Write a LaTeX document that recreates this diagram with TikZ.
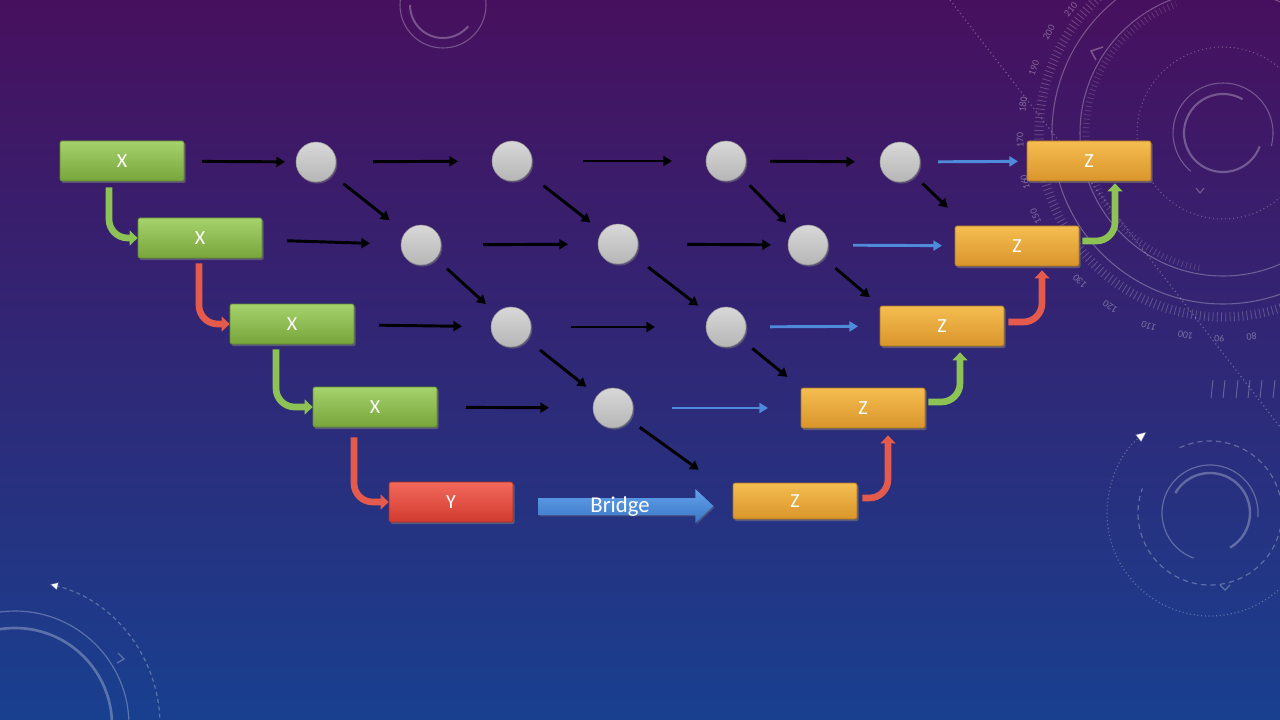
\documentclass[tikz,border=0pt]{standalone}
\usepackage{fontspec}
\setmainfont{Carlito}
\usetikzlibrary{arrows.meta,shadows,calc}
\definecolor{bgtop}{HTML}{47105E}
\definecolor{bgmid}{HTML}{2E2278}
\definecolor{bgbot}{HTML}{18408F}
\definecolor{gtop}{HTML}{A6D26B}
\definecolor{gbot}{HTML}{77A53B}
\definecolor{gdraw}{HTML}{5F8C2E}
\definecolor{otop}{HTML}{F5BD50}
\definecolor{obot}{HTML}{D9952B}
\definecolor{odraw}{HTML}{A8731E}
\definecolor{rtop}{HTML}{F2695C}
\definecolor{rbot}{HTML}{D23B2F}
\definecolor{rdraw}{HTML}{A82C22}
\definecolor{dtop}{HTML}{D8D8D8}
\definecolor{dbot}{HTML}{B6B6B6}
\definecolor{arrblue}{HTML}{4E8BDA}
\definecolor{bentgreen}{HTML}{8DC355}
\definecolor{bentred}{HTML}{E45A4C}
\definecolor{brtop}{HTML}{62A2E8}
\definecolor{brbot}{HTML}{3A76C8}
\newcommand\lnk[5]{\draw[#1, shorten <=#4*0.75pt, shorten >=#5*0.75pt] (#2.center) -- (#3.center);}
\begin{document}
\begin{tikzpicture}[x=0.75pt,y=-0.75pt,
  box/.style={minimum width=93pt, minimum height=30pt, rounded corners=1.5pt, inner sep=0pt,
    text=white, font=\fontsize{15}{17}\selectfont, line width=0.5pt,
    drop shadow={opacity=0.55, shadow xshift=1.2pt, shadow yshift=-1.5pt}},
  greenbox/.style={box, top color=gtop, bottom color=gbot, draw=gdraw},
  orangebox/.style={box, top color=otop, bottom color=obot, draw=odraw},
  redbox/.style={box, top color=rtop, bottom color=rbot, draw=rdraw},
  dot/.style={circle, minimum size=30pt, inner sep=0pt, top color=dtop, bottom color=dbot, draw=dbot!80!black, line width=0.4pt,
    drop shadow={opacity=0.5, shadow xshift=1pt, shadow yshift=-1.2pt}},
  blk/.style={draw=black, line width=2.2pt, -{Triangle[length=6.5pt,width=7.5pt]}},
  blu/.style={draw=arrblue, line width=2.2pt, -{Triangle[length=6.5pt,width=7.5pt]}},
  bentg/.style={draw=bentgreen, line width=5pt, rounded corners=14pt, -{Triangle[length=6pt,width=11pt]}},
  bentr/.style={draw=bentred, line width=5pt, rounded corners=14pt, -{Triangle[length=6pt,width=11pt]}},
  deco/.style={draw=white, draw opacity=0.28},
  numlbl/.style={text=white, text opacity=0.35, font=\fontsize{7.5}{8}\selectfont, inner sep=0pt}
]
\useasboundingbox (0,0) rectangle (1280,720);
% background
\shade[top color=bgtop, middle color=bgmid, bottom color=bgbot] (0,0) rectangle (1280,720);

% decorations: top-right dial
\coordinate (dial) at (1223,133);
\draw[deco, line width=0.8pt] (dial) circle (171);
\draw[deco, line width=0.8pt] (dial) circle (143);
\draw[deco, line width=7pt, dash pattern=on 0.6pt off 2.6pt, draw opacity=0.22] (dial) circle (184);
\draw[deco, line width=5pt, dash pattern=on 0.6pt off 2.6pt, draw opacity=0.16] ($(dial)+(100:137)$) arc (100:250:137);
\draw[deco, line width=0.8pt, dash pattern=on 0.8pt off 2.2pt] (dial) circle (86);
\draw[deco, line width=1.6pt] ($(dial)+(20:39)$) arc (20:300:39);
\draw[deco, line width=0.8pt] ($(dial)+(130:50)$) arc (130:375:50);
\draw[deco, line width=1.2pt] (1103,47) -- (1091,51) -- (1096,60);
\draw[deco, line width=0.8pt] (1196,188) -- (1200,193) -- (1204,188);
\foreach \n/\ang/\rr in {80/82/206, 90/91/206, 100/100.5/206, 110/111/207, 120/123/207, 130/134/206,
                        150/156/205, 160/166/204, 170/178/203, 180/188/202, 190/199/200, 200/210/201, 210/219/196} {
  \node[numlbl, rotate={270-\ang}] at ($(dial)+(\ang:\rr)$) {\n};
}
\draw[deco, line width=0.9pt, dash pattern=on 0.9pt off 2.2pt] (950,0) -- (1290,440);
\foreach \xx in {1213,1225,1238,1250,1262,1275} {
  \draw[deco, line width=0.7pt] (\xx,380) -- (\xx-2,398);
}
% top small arcs
\coordinate (topc) at (443,5);
\draw[deco, line width=0.8pt] (topc) circle (43);
\draw[deco, line width=1.5pt] ($(topc)+(180:33)$) arc (180:40:33);
% bottom-left
\coordinate (blc) at (15,725);
\draw[deco, line width=2pt] (blc) circle (97);
\draw[deco, line width=0.9pt] (blc) circle (114);
\draw[deco, line width=0.9pt, dash pattern=on 3pt off 2.5pt, -{Triangle[length=6pt,width=6pt]}] ($(blc)+(0:145)$) arc (0:-76:145);
\draw[deco, line width=1pt] (118,653) -- (124,659) -- (117,663);
% bottom-right
\coordinate (brc) at (1210,513);
\draw[deco, line width=1.8pt] ($(brc)+(-150:40)$) arc (-150:60:40);
\draw[deco, line width=0.9pt] ($(brc)+(110:48)$) arc (110:365:48);
\draw[deco, line width=0.9pt, dash pattern=on 4pt off 3pt] ($(brc)+(-115:72)$) arc (-115:200:72);
\draw[deco, line width=0.9pt, dash pattern=on 0.8pt off 2pt, -{Triangle[length=8pt,width=7pt]}] ($(brc)+(30:103)$) arc (30:232:103);
\draw[deco, line width=1pt] (1220,585) -- (1225,590) -- (1230,585);

% ---- nodes ----
\node[greenbox] (x1) at (122,161) {X};
\node[greenbox] (x2) at (200,238) {X};
\node[greenbox] (x3) at (292,324) {X};
\node[greenbox] (x4) at (375,407) {X};
\node[redbox]   (y)  at (451,502) {Y};

\node[orangebox] (z1) at (1089,161) {Z};
\node[orangebox] (z2) at (1017,246) {Z};
\node[orangebox] (z3) at (942,326) {Z};
\node[orangebox] (z4) at (863,408) {Z};
\node[orangebox, minimum height=27pt] (z5) at (795,501) {Z};

\node[dot] (c11) at (316,162) {};
\node[dot] (c12) at (512,161) {};
\node[dot] (c13) at (726,161) {};
\node[dot] (c14) at (900,162) {};
\node[dot] (c21) at (421,245) {};
\node[dot] (c22) at (618,244) {};
\node[dot] (c23) at (808,245) {};
\node[dot] (c31) at (511,327) {};
\node[dot] (c32) at (726,327) {};
\node[dot] (c41) at (613,408) {};

\coordinate (t1) at ($(z2.north west)+(12,0)$);
\coordinate (t2) at ($(z5.north west)+(-16,0)$);
\coordinate (t3) at (z3.north west);
\coordinate (t4) at (z4.north west);

% ---- horizontal arrows ----
\lnk{blk}{x1}{c11}{80}{31}
\lnk{blk}{c11}{c12}{57}{54}
\lnk{blk}{c12}{c13}{71}{54}
\lnk{blk}{c13}{c14}{44}{45}
\lnk{blu}{c14}{z1}{38}{71}
\lnk{blk}{x2}{c21}{87}{51}
\lnk{blk}{c21}{c22}{62}{50}
\lnk{blk}{c22}{c23}{69}{37}
\lnk{blu}{c23}{z2}{45}{75}
\lnk{blk}{x3}{c31}{87}{49}
\lnk{blk}{c31}{c32}{60}{71}
\lnk{blu}{c32}{z3}{44}{84}
\lnk{blk}{x4}{c41}{91}{64}
\lnk{blu}{c41}{z4}{59}{95}

% ---- diagonal arrows ----
\lnk{blk}{c11}{c21}{35}{40}
\lnk{blk}{c21}{c31}{35}{34}
\lnk{blk}{c12}{c22}{40}{35}
\lnk{blk}{c22}{c32}{38}{35}
\lnk{blk}{c13}{c23}{34}{31}
\lnk{blk}{c31}{c41}{37}{34}
\lnk{blk}{c14}{t1}{31}{26}
\lnk{blk}{c23}{t3}{36}{13}
\lnk{blk}{c32}{t4}{34}{17}
\lnk{blk}{c41}{t2}{33}{22}

% ---- bent arrows ----
\draw[bentg] ([shift={(-13,6)}]x1.south) |- (x2.west);
\draw[bentr] ([shift={(-1,5)}]x2.south) |- (x3.west);
\draw[bentg] ([shift={(-16,5)}]x3.south) |- (x4.west);
\draw[bentr] ([shift={(-21,10)}]x4.south) |- (y.west);
\draw[bentr] ([shift={(5,-3)}]z5.east) -| ([shift={(25,7)}]z4.south);
\draw[bentg] ([shift={(3,-6)}]z4.east) -| ([shift={(18,6)}]z3.south);
\draw[bentr] ([shift={(4,-4)}]z3.east) -| ([shift={(25,4)}]z2.south);
\draw[bentg] ([shift={(3,-5)}]z2.east) -| ([shift={(26,2)}]z1.south);

% ---- bridge ----
\shade[top color=brtop, bottom color=brbot, drop shadow={opacity=0.4, shadow xshift=1pt, shadow yshift=-1pt}]
  ([shift={(25,-4)}]y.east) -- ++(157,0) -- ++(0,-9) -- ++(18,17) -- ++(-18,17) -- ++(0,-8) -- ++(-157,0) -- cycle;
\node[text=white, font=\fontsize{17}{19}\selectfont, inner sep=0pt] (bridge) at ($(y.east)!0.5!(z5.west)+(-3,5)$) {Bridge};
\end{tikzpicture}
\end{document}
